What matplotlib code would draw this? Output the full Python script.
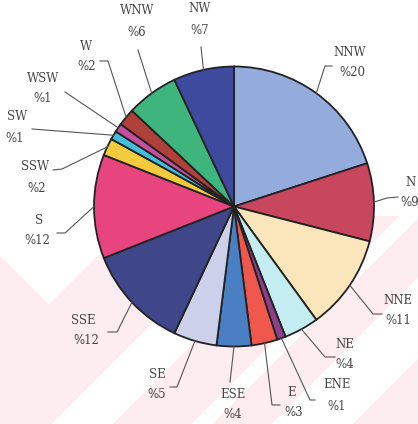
import numpy as np
import matplotlib.pyplot as plt

# wind direction frequencies (%), clockwise from 12 o'clock
directions = ["NNW", "N", "NNE", "NE", "ENE", "E", "ESE", "SE",
              "SSE", "S", "SSW", "SW", "WSW", "W", "WNW", "NW"]
shares = [20, 9, 11, 4, 1, 3, 4, 5, 12, 12, 2, 1, 1, 2, 6, 7]
colors = ["#93acdc", "#c8475e", "#fbe5bb", "#c4edf1", "#8e3f8a", "#f0584e",
          "#4a7fc4", "#ccd0ea", "#3f4689", "#e8457e", "#f5cb3e", "#45bedc",
          "#c84e9e", "#b0403a", "#3db57d", "#3e4a9e"]

# label layout in pixel space: name position, percent position, leader bend points
name_pos = [(350, 52), (411, 182), (398, 300), (345, 344), (337, 385), (292, 392),
            (233, 395), (157, 374), (83, 320), (39, 220), (35, 167), (17, 116),
            (43, 78), (86, 47), (137, 11), (200, 8)]
pct_pos = [(352, 73), (410, 202), (398, 320), (345, 364), (337, 406), (294, 412),
           (233, 415), (157, 395), (86, 340), (37, 240), (37, 188), (15, 138),
           (43, 99), (87, 67), (137, 33), (200, 30)]
leader_pts = [[(332, 66), (325, 66)], [(398, 197), (387, 198)],
              [(382, 314), (373, 314)], [(335, 357), (325, 357)],
              [(315, 400), (310, 400)], [(280, 405), (272, 405)],
              [(230, 382)], [(170, 387), (177, 387)],
              [(108, 332), (117, 332)], [(57, 233), (65, 233)],
              [(53, 170), (62, 169)], [(32, 129)],
              [(65, 92)], [(100, 61), (108, 61)],
              [(138, 50)], [(201, 47)]]

W, H = 418, 424
cx, cy, R = 234, 206.5, 140

fig = plt.figure(figsize=(W / 100, H / 100), dpi=100)
ax = fig.add_axes([0, 0, 1, 1])

# faint diagonal watermark behind the chart
yy, xx = np.mgrid[0:H, 0:W]
s = xx + yy
pink = (((s > 352) | (yy > xx + 255)) & (s < 475)) | ((s > 535) & (s < 615)) \
    | ((s > 635) & (s < 695)) | (s > 775)
pink &= yy > 215
bg = np.ones((H, W, 3))
bg[pink] = np.array([253, 237, 240]) / 255
ax.imshow(bg, extent=(0, W, H, 0), origin="upper", zorder=0, interpolation="bilinear")

# y axis runs downward, so counterclock in data space reads clockwise on screen
wedges, _ = ax.pie(shares, colors=colors, startangle=-90, counterclock=True,
                   center=(cx, cy), radius=R,
                   wedgeprops=dict(edgecolor="#222222", linewidth=1.3))

for w, name, v, npos, ppos, pts in zip(wedges, directions, shares,
                                       name_pos, pct_pos, leader_pts):
    mid = np.deg2rad((w.theta1 + w.theta2) / 2)
    edge = (cx + R * np.cos(mid), cy + R * np.sin(mid))
    line = pts + [edge]
    ax.plot([p[0] for p in line], [p[1] for p in line], color="#555555", lw=0.8,
            zorder=3)
    ax.text(npos[0], npos[1], name, ha="center", va="center", fontsize=8.5,
            family="DejaVu Serif", color="#444444")
    ax.text(ppos[0], ppos[1], "%" + str(v), ha="center", va="center", fontsize=8.5,
            family="DejaVu Serif", color="#444444")

ax.set_xlim(0, W)
ax.set_ylim(H, 0)
ax.set_aspect("auto")
ax.axis("off")

fig.savefig("out.png", dpi=100, facecolor="white")
